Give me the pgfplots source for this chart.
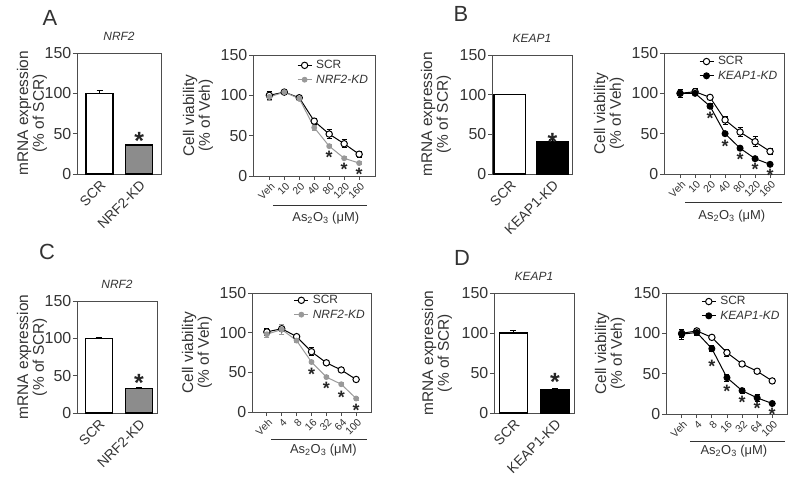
\documentclass[border=0pt]{standalone}
\usepackage{pgfplots}
\pgfplotsset{compat=1.18}
\usepackage{fontspec}
\setmainfont{Liberation Sans}
\newcommand{\fs}[1]{\fontsize{#1}{#1}\selectfont}
\definecolor{kdgray}{HTML}{999999}
\definecolor{bargray}{HTML}{8C8C8C}
\definecolor{txt}{HTML}{333333}
\definecolor{axc}{HTML}{4D4D4D}

\pgfplotsset{
  common/.style={
    scale only axis, clip=false,
    ymin=0, ymax=150, ytick={0,50,100,150},
    axis line style={axc, line width=0.9bp},
    tick style={axc, line width=0.9bp},
    tick align=outside, major tick length=4bp,
    ytick pos=left, xtick pos=bottom,
    /pgf/number format/assume math mode=true,
    yticklabel style={font=\fs{16}, text=txt, inner sep=1.5bp},
    title style={font=\fs{12}\itshape, text=txt, at={(0.5,1)}, anchor=south, yshift=3bp},
  },
  ylab/.style={every axis y label/.style={at={(axis description cs:0,0.5)}, xshift=-#1bp, rotate=90, anchor=center, align=center, font=\fontsize{15.5}{16}\selectfont, text=txt}},
  barax/.style={common, xtick={0,1}, major x tick style={draw=none},
    xticklabel style={rotate=45, anchor=north east, font=\fs{14}, text=txt, inner sep=1bp}},
  lineax/.style={common, xtick={0,...,6}, xticklabels={Veh,10,20,40,80,120,160},
    xticklabel style={rotate=45, anchor=north east, font=\fs{10.5}, text=txt, inner sep=1bp, yshift=-1bp},
    legend cell align=left,
    legend style={draw=none, fill=none, font=\fs{12}, text=txt, inner sep=0pt, row sep=2.5bp, column sep=3bp,
      nodes={inner sep=1bp}},
    legend image code/.code={\draw[mark repeat=2,mark phase=2,##1] plot coordinates {(0bp,0bp)(7bp,0bp)(14bp,0bp)};},
    ylabel={Cell viability\\(\% of Veh)}},
  eb/.style={error bars/y dir=both, error bars/y explicit,
    error bars/error bar style={line width=0.8bp},
    error bars/error mark options={rotate=90, mark size=2.5bp, line width=0.8bp}},
  barplot/.style={ybar, bar shift=0pt, draw=black, line width=1.3bp,
    error bars/y dir=plus, error bars/y explicit,
    error bars/error bar style={line width=1bp, black},
    error bars/error mark options={rotate=90, mark size=3bp, line width=1bp, black}},
  scr/.style={black, line width=1bp, mark=*, mark size=3.2bp, mark options={fill=white, line width=1bp}, eb},
  kdg/.style={kdgray, line width=1bp, mark=*, mark size=2.4bp, mark options={fill=kdgray, draw=kdgray}, eb},
  kdb/.style={black, line width=1bp, mark=*, mark size=3bp, mark options={fill=black}, eb},
  starsm/.style={only marks, forget plot, mark=text, text mark={*}, text mark as node=true,
    text mark style={font=\fs{18}\bfseries, inner sep=0pt, yshift=-3.5bp, text=black!85}},
  starbig/.style={only marks, forget plot, mark=text, text mark={*}, text mark as node=true,
    text mark style={font=\fs{25}\bfseries, inner sep=0pt, yshift=-4.5bp, text=black!85}},
}
\newcommand{\rborder}{\draw[axc, line width=0.9bp] (rel axis cs:1,0) -- (rel axis cs:1,1);}

\begin{document}
\begin{tikzpicture}
\path[use as bounding box] (0bp,0bp) rectangle (795bp,479bp);

% panel letters
\node[font=\fs{22}, text=txt] at (50bp,461bp) {A};
\node[font=\fs{22}, text=txt] at (461bp,465bp) {B};
\node[font=\fs{22}, text=txt] at (47bp,227bp) {C};
\node[font=\fs{22}, text=txt] at (462bp,221bp) {D};

% ---------- A bar ----------
\begin{axis}[barax, ylab=45, at={(77bp,305bp)}, anchor=south west, width=84bp, height=121bp,
  xmin=-0.57, xmax=1.55, xticklabels={SCR,NRF2-KD}, title={NRF2},
  ylabel={mRNA expression\\(\% of SCR)}]
\addplot[barplot, bar width=0.68, fill=white] coordinates {(0,100) +- (0,3)};
\addplot[barplot, bar width=0.68, fill=bargray] coordinates {(1,36) +- (0,0.5)};
\addplot[starbig] coordinates {(1,46)};
\rborder
\end{axis}

% ---------- A line ----------
\begin{axis}[lineax, ylab=55, at={(253bp,303bp)}, anchor=south west, width=122bp, height=121bp,
  xmin=-1.09, xmax=7.06,
  legend style={at={(0.36,0.965)}, anchor=north west}]
\addplot[scr] coordinates {(0,100) +- (0,5) (1,104) +- (0,3) (2,97) +- (0,3) (3,68) +- (0,4) (4,52) +- (0,6) (5,40) +- (0,5) (6,27) +- (0,4)};
\addplot[kdg] coordinates {(0,98) +- (0,4) (1,104) +- (0,2) (2,96) +- (0,2) (3,60) +- (0,3) (4,37) +- (0,2) (5,22) +- (0,2) (6,16) +- (0,2)};
\addplot[starsm] coordinates {(4,27) (5,12) (6,6)};
\legend{SCR,\textit{NRF2-KD}}
\draw[txt, line width=0.8bp] (axis cs:0.24,-37) -- (axis cs:6.52,-37);
\node[font=\fs{13}, text=txt] at (axis cs:3.77,-52) {As\textsubscript{2}O\textsubscript{3} (μM)};
\end{axis}

% ---------- B bar ----------
\begin{axis}[barax, ylab=56, at={(492bp,305bp)}, anchor=south west, width=80bp, height=119bp,
  xmin=-0.42, xmax=1.46, xticklabels={SCR,KEAP1-KD}, title={KEAP1},
  ylabel={mRNA expression\\(\% of SCR)}]
\addplot[barplot, bar width=0.75, fill=white] coordinates {(0,100) +- (0,0)};
\addplot[barplot, bar width=0.75, fill=black] coordinates {(1,41) +- (0,2)};
\addplot[starbig] coordinates {(1,46)};
\rborder
\end{axis}

% ---------- B line ----------
\begin{axis}[lineax, ylab=55, at={(664bp,305bp)}, anchor=south west, width=120bp, height=121bp,
  xmin=-1.07, xmax=6.93,
  legend style={at={(0.29,0.98)}, anchor=north west}]
\addplot[scr] coordinates {(0,100) +- (0,5) (1,102) +- (0,4) (2,95) +- (0,3) (3,67) +- (0,5) (4,52) +- (0,6) (5,40) +- (0,6) (6,28) +- (0,4)};
\addplot[kdb] coordinates {(0,100) +- (0,3) (1,100) +- (0,3) (2,84) +- (0,3) (3,50) +- (0,2) (4,32) +- (0,2) (5,19) +- (0,2) (6,12) +- (0,1)};
\addplot[starsm] coordinates {(2,73) (3,39) (4,22) (5,10) (6,3)};
\legend{SCR,\textit{KEAP1-KD}}
\draw[txt, line width=0.8bp] (axis cs:0.33,-34.7) -- (axis cs:6.8,-34.7);
\node[font=\fs{13}, text=txt] at (axis cs:3.45,-52) {As\textsubscript{2}O\textsubscript{3} (μM)};
\end{axis}

% ---------- C bar ----------
\begin{axis}[barax, ylab=45, at={(77bp,66bp)}, anchor=south west, width=80bp, height=112bp,
  xmin=-0.54, xmax=1.45, xticklabels={SCR,NRF2-KD}, title={NRF2},
  ylabel={mRNA expression\\(\% of SCR)}]
\addplot[barplot, bar width=0.67, fill=white] coordinates {(0,100) +- (0,1.5)};
\addplot[barplot, bar width=0.67, fill=bargray] coordinates {(1,33) +- (0,0.5)};
\addplot[starbig] coordinates {(1,46)};
\rborder
\end{axis}

% ---------- C line ----------
\begin{axis}[lineax, ylab=55, at={(252bp,67bp)}, anchor=south west, width=119bp, height=119bp,
  xmin=-1.0, xmax=7.0, xticklabels={Veh,4,8,16,32,64,100},
  legend style={at={(0.35,0.99)}, anchor=north west}]
\addplot[scr] coordinates {(0,101) +- (0,5) (1,105) +- (0,2) (2,95) +- (0,2) (3,76) +- (0,5) (4,62) +- (0,2) (5,53) +- (0,2) (6,41) +- (0,3)};
\addplot[kdg] coordinates {(0,98) +- (0,4) (1,104) +- (0,6) (2,90) +- (0,2) (3,63) +- (0,2) (4,44) +- (0,2) (5,35) +- (0,2) (6,17) +- (0,2)};
\addplot[starsm] coordinates {(3,52) (4,34) (5,23.5) (6,6)};
\legend{SCR,\textit{NRF2-KD}}
\draw[txt, line width=0.8bp] (axis cs:0.28,-34) -- (axis cs:6.73,-34);
\node[font=\fs{13}, text=txt] at (axis cs:3.8,-48) {As\textsubscript{2}O\textsubscript{3} (μM)};
\end{axis}

% ---------- D bar ----------
\begin{axis}[barax, ylab=57, at={(494bp,66bp)}, anchor=south west, width=80bp, height=120bp,
  xmin=-0.47, xmax=1.46, xticklabels={SCR,KEAP1-KD}, title={KEAP1},
  ylabel={mRNA expression\\(\% of SCR)}]
\addplot[barplot, bar width=0.68, fill=white] coordinates {(0,100) +- (0,2.5)};
\addplot[barplot, bar width=0.68, fill=black] coordinates {(1,29) +- (0,1)};
\addplot[starbig] coordinates {(1,45)};
\rborder
\end{axis}

% ---------- D line ----------
\begin{axis}[lineax, ylab=56, at={(666bp,65bp)}, anchor=south west, width=121bp, height=121bp,
  xmin=-1.04, xmax=6.98, xticklabels={Veh,4,8,16,32,64,100},
  legend style={at={(0.29,0.98)}, anchor=north west}]
\addplot[scr] coordinates {(0,100) +- (0,5) (1,103) +- (0,3) (2,95) +- (0,2) (3,76) +- (0,4) (4,62) +- (0,2) (5,53) +- (0,2) (6,41) +- (0,3)};
\addplot[kdb] coordinates {(0,99) +- (0,6) (1,101) +- (0,4) (2,81) +- (0,4) (3,45) +- (0,4) (4,29) +- (0,3) (5,20) +- (0,4) (6,13) +- (0,2)};
\addplot[starsm] coordinates {(2,63) (3,33) (4,19) (5,11) (6,4)};
\legend{SCR,\textit{KEAP1-KD}}
\draw[txt, line width=0.8bp] (axis cs:0.55,-33.5) -- (axis cs:6.84,-33.5);
\node[font=\fs{13}, text=txt] at (axis cs:3.46,-45.5) {As\textsubscript{2}O\textsubscript{3} (μM)};
\end{axis}
\end{tikzpicture}
\end{document}
